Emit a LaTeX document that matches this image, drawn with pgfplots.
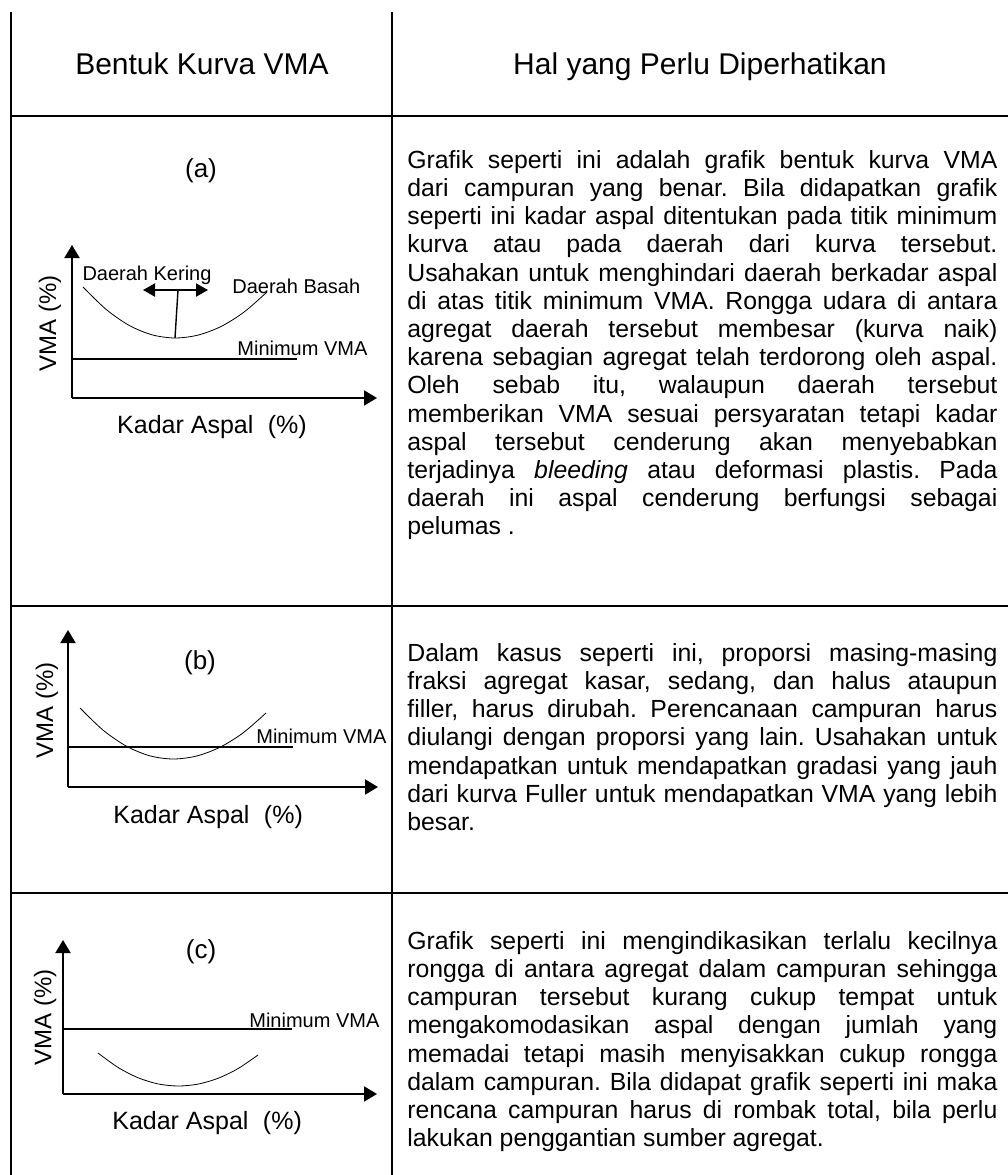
\documentclass[border=0pt]{standalone}
\usepackage{fontspec}
\setmainfont{Liberation Sans}
\usepackage{pgfplots}
\pgfplotsset{compat=1.18}
\usetikzlibrary{arrows.meta}

\pgfplotsset{
  vma/.style={
    scale only axis,
    anchor=south west,
    axis lines=left,
    xtick=\empty, ytick=\empty,
    xmin=0, ymin=0,
    clip=false,
    cycle list={{black, no markers, line width=0.7pt}},
    axis line style={line width=1pt},
    x axis line style={-{Triangle[width=7.5pt,length=6.5pt]}},
    y axis line style={-{Triangle[width=7.5pt,length=6.5pt]}},
    xlabel style={anchor=center, font=\fontsize{12.5}{14}\selectfont},
    ylabel style={anchor=center, font=\fontsize{12}{14}\selectfont},
  },
  minline/.style={black, line width=0.95pt},
}
\tikzset{
  lbl/.style={font=\fontsize{10}{12}\selectfont, inner sep=0pt},
  body/.style={anchor=north west, inner sep=0pt, text width=295pt, align=justify,
    font=\fontsize{12.4}{14.1}\selectfont,
    execute at begin node={\frenchspacing\hyphenpenalty=10000\relax\tolerance=10000\relax}},
}

\begin{document}
\begin{tikzpicture}[x=0.5pt,y=-0.5pt]
\useasboundingbox (0,0) rectangle (1008,1175);

% garis tabel
\draw[line width=1pt] (11,12) -- (11,1175);
\draw[line width=1pt] (392,12) -- (392,1175);
\draw[line width=1pt] (11,116) -- (1008,116);
\draw[line width=1pt] (11,606) -- (1008,606);
\draw[line width=1pt] (11,893) -- (1008,893);

% judul kolom
\node[font=\fontsize{15}{18}\selectfont, anchor=base] at (202,74) {Bentuk Kurva VMA};
\node[font=\fontsize{15}{18}\selectfont, anchor=base] at (700,74) {Hal yang Perlu Diperhatikan};

% label panel
\node[font=\fontsize{13}{15}\selectfont] at (201,171) {(a)};
\node[font=\fontsize{13}{15}\selectfont] at (200,663) {(b)};
\node[font=\fontsize{13}{15}\selectfont] at (201,952) {(c)};

% (a)
\begin{axis}[vma, at={(36pt,-199pt)}, width=152.5pt, height=76.5pt,
  xmax=305, ymax=153,
  xlabel={Kadar Aspal\hspace{0.3em} (\%)}, ylabel={VMA (\%)},
  xlabel style={at={(axis description cs:0.459,-0.19)}},
  ylabel style={at={(axis description cs:-0.072,0.49)}}]
\addplot+[smooth] coordinates {(11,111) (34,88.7) (57,72.7) (80,63.2) (103,60)
  (126,62.9) (149,71.5) (172,85.9) (195,106)};
\addplot[minline] coordinates {(0,39) (225,39)};
\addplot+[] coordinates {(103,60) (106,108)};
\addplot[black, line width=1pt, {Triangle[width=6.5pt,length=6pt]}-{Triangle[width=6.5pt,length=6pt]}]
  coordinates {(71,108) (136,108)};
\node[lbl, anchor=west] at (axis cs:165,50) {Minimum VMA};
\node[lbl] at (axis cs:75,123) {Daerah Kering};
\node[lbl, anchor=west] at (axis cs:160,112) {Daerah Basah};
\end{axis}

% (b)
\begin{axis}[vma, at={(34pt,-393.5pt)}, width=155pt, height=78.5pt,
  xmax=310, ymax=157,
  xlabel={Kadar Aspal\hspace{0.3em} (\%)}, ylabel={VMA (\%)},
  xlabel style={at={(axis description cs:0.452,-0.191)}},
  ylabel style={at={(axis description cs:-0.068,0.49)}}]
\addplot+[smooth] coordinates {(12,79) (35.25,56.7) (58.5,40.8) (81.75,31.2) (105,28)
  (128.25,30.9) (151.5,39.5) (174.75,53.9) (198,74)};
\addplot[minline] coordinates {(0,40) (225,40)};
\node[lbl, anchor=west] at (axis cs:188,51) {Minimum VMA};
\end{axis}

% (c)
\begin{axis}[vma, at={(31.5pt,-547pt)}, width=157pt, height=77pt,
  xmax=314, ymax=154,
  xlabel={Kadar Aspal\hspace{0.3em} (\%)}, ylabel={VMA (\%)},
  xlabel style={at={(axis description cs:0.459,-0.188)}},
  ylabel style={at={(axis description cs:-0.057,0.5)}}]
\addplot+[smooth] coordinates {(35,41) (55,26.6) (75,16.3) (95,10.1) (115,8)
  (135,9.9) (155,15.7) (175,25.4) (195,39)};
\addplot[minline] coordinates {(0,65) (229,65)};
\node[lbl, anchor=west] at (axis cs:186,74) {Minimum VMA};
\end{axis}

% teks keterangan
\node[body] at (407,150) {%
Grafik seperti ini adalah grafik bentuk kurva VMA\linebreak
dari campuran yang benar. Bila didapatkan grafik\linebreak
seperti ini kadar aspal ditentukan pada titik minimum\linebreak
kurva atau pada daerah dari kurva tersebut.\linebreak
Usahakan untuk menghindari daerah berkadar aspal\linebreak
di atas titik minimum VMA. Rongga udara di antara\linebreak
agregat daerah tersebut membesar (kurva naik)\linebreak
karena sebagian agregat telah terdorong oleh aspal.\linebreak
Oleh sebab itu, walaupun daerah tersebut\linebreak
memberikan VMA sesuai persyaratan tetapi kadar\linebreak
aspal tersebut cenderung akan menyebabkan\linebreak
terjadinya \textit{bleeding} atau deformasi plastis. Pada\linebreak
daerah ini aspal cenderung berfungsi sebagai\linebreak
pelumas .};

\node[body] at (407,643) {%
Dalam kasus seperti ini, proporsi masing-masing\linebreak
fraksi agregat kasar, sedang, dan halus ataupun\linebreak
filler, harus dirubah. Perencanaan campuran harus\linebreak
diulangi dengan proporsi yang lain. Usahakan untuk\linebreak
mendapatkan untuk mendapatkan gradasi yang jauh\linebreak
dari kurva Fuller untuk mendapatkan VMA yang lebih\linebreak
besar.};

\node[body] at (407,931) {%
Grafik seperti ini mengindikasikan terlalu kecilnya\linebreak
rongga di antara agregat dalam campuran sehingga\linebreak
campuran tersebut kurang cukup tempat untuk\linebreak
mengakomodasikan aspal dengan jumlah yang\linebreak
memadai tetapi masih menyisakkan cukup rongga\linebreak
dalam campuran. Bila didapat grafik seperti ini maka\linebreak
rencana campuran harus di rombak total, bila perlu\linebreak
lakukan penggantian sumber agregat.};

\end{tikzpicture}
\end{document}
